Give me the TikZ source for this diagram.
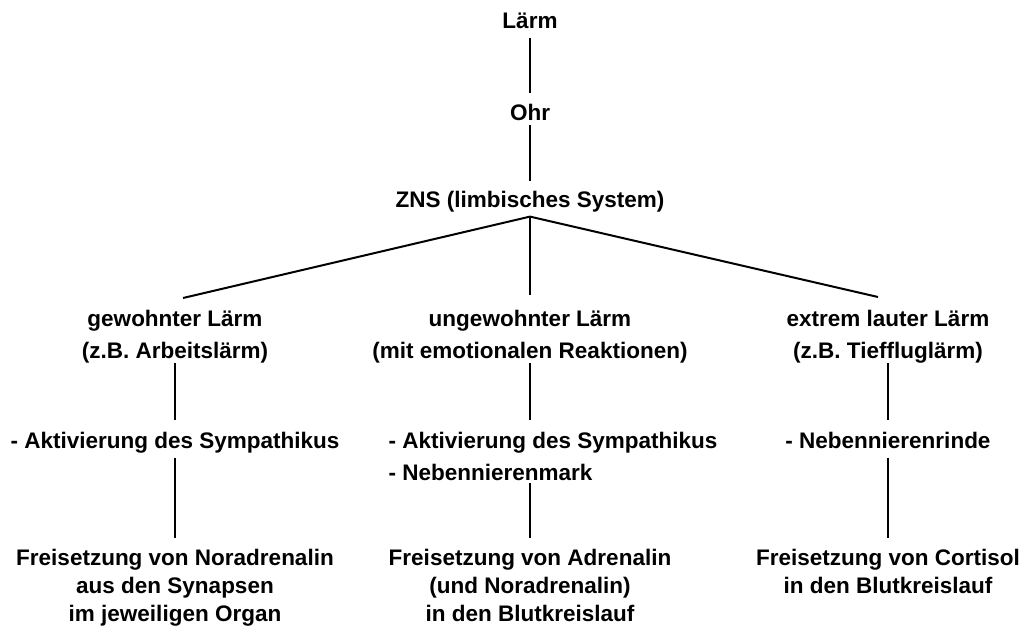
\documentclass[tikz,border=0pt]{standalone}
\usepackage{fontspec}
\setmainfont{Liberation Sans}
\usetikzlibrary{calc}
% stacked text lines, baseline of the box = baseline of the first line
\newcommand\rowsc[1]{\begin{tabular}[t]{@{}c@{}}#1\end{tabular}}
\newcommand\rowsl[1]{\begin{tabular}[t]{@{}l@{}}#1\end{tabular}}
\begin{document}
\begin{tikzpicture}[x=1pt,y=-1pt,
  lbl/.style={anchor=base, inner sep=0pt, outer sep=0pt,
    font=\fontsize{22.5}{32}\selectfont\bfseries},
  lblt/.style={lbl, font=\fontsize{22.5}{28.2}\selectfont\bfseries},
  link/.style={line width=2pt, draw=black}]
\useasboundingbox (0,0) rectangle (1023,630);

% main chain
\node[lbl] (laerm) at (530,28)  {\rowsc{Lärm}};
\node[lbl] (ohr)   at (530,120) {\rowsc{Ohr}};
\node[lbl] (zns)   at (530,207) {\rowsc{ZNS (limbisches System)}};

% three kinds of noise
\node[lbl] (gew)   at (175,326) {\rowsc{gewohnter Lärm\\(z.B. Arbeitslärm)}};
\node[lbl] (ungew) at (530,326) {\rowsc{ungewohnter Lärm\\(mit emotionalen Reaktionen)}};
\node[lbl] (ext)   at (888,326) {\rowsc{extrem lauter Lärm\\(z.B. Tieffluglärm)}};

% activated systems
\node[lbl] (sym)   at (175,448) {\rowsc{- Aktivierung des Sympathikus}};
\node[lbl] (symnm) at (553,448) {\rowsl{- Aktivierung des Sympathikus\\- Nebennierenmark}};
\node[lbl] (nnr)   at (888,448) {\rowsc{- Nebennierenrinde}};

% released hormones
\node[lblt] (nor)  at (175,565.5) {\rowsc{Freisetzung von Noradrenalin\\aus den Synapsen\\im jeweiligen Organ}};
\node[lblt] (adr)  at (530,565.5) {\rowsc{Freisetzung von Adrenalin\\(und Noradrenalin)\\in den Blutkreislauf}};
\node[lblt] (cort) at (888,565.5) {\rowsc{Freisetzung von Cortisol\\in den Blutkreislauf}};

% connectors
\draw[link] (laerm.south) -- ([yshift=4.6pt]ohr.north);
\draw[link] ([yshift=4.6pt]ohr.south) -- ([yshift=3.6pt]zns.north);
\draw[link] (zns.south) -- ([xshift=8pt,yshift=5.6pt]gew.north);
\draw[link] (zns.south) -- ([yshift=8.6pt]ungew.north);
\draw[link] (zns.south) -- ([xshift=-10pt,yshift=6.6pt]ext.north);

\draw[link] ([yshift=4.6pt]gew.south) -- ([yshift=5.6pt]sym.north);
\draw[link] ([yshift=4.6pt]ungew.south) -- ($(symnm.north -| ungew.south)+(0,-5.6)$);
\draw[link] ([yshift=4.6pt]ext.south) -- ([yshift=5.6pt]nnr.north);

\draw[link] (sym.south) -- ([yshift=7.6pt]nor.north);
\draw[link] ($(symnm.south -| adr.north)+(0,-6.6)$) -- ([yshift=7.6pt]adr.north);
\draw[link] (nnr.south) -- ([yshift=7.6pt]cort.north);
\end{tikzpicture}
\end{document}
